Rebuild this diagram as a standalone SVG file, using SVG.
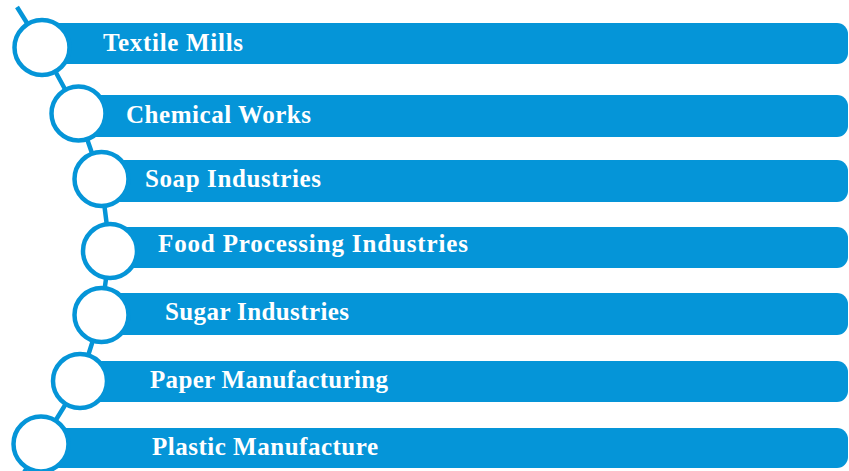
<svg xmlns="http://www.w3.org/2000/svg" width="849" height="471" viewBox="0 0 849 471">
<style>
.bar{fill:#0595d8}
.dot{fill:#fff;stroke:#0595d8;stroke-width:4.5}
.lbl{font-family:"Liberation Serif","Times New Roman",serif;font-weight:bold;font-size:25px;fill:#fff}
.link{fill:none;stroke:#0595d8;stroke-width:4.5;stroke-linejoin:round;stroke-linecap:butt}
</style>
<rect width="849" height="471" fill="#fff"/>
<g id="connectors">
<path class="link" d="M17,7 L42,47 L78,113 L101,179 L110,250 L101,315 L80,381 L41,444 L22,476"/>
</g>
<g id="n1"><rect class="bar" x="45" y="23" width="803" height="41" rx="11"/><circle class="dot" cx="42" cy="47.5" r="27.5"/><text class="lbl" x="103" y="51" textLength="140" lengthAdjust="spacing">Textile Mills</text></g>
<g id="n2"><rect class="bar" x="80" y="95" width="768" height="42" rx="11"/><circle class="dot" cx="78.5" cy="113.5" r="27"/><text class="lbl" x="126" y="123" textLength="185" lengthAdjust="spacing">Chemical Works</text></g>
<g id="n3"><rect class="bar" x="100" y="160" width="748" height="42" rx="11"/><circle class="dot" cx="101.5" cy="179" r="27"/><text class="lbl" x="145" y="187" textLength="176" lengthAdjust="spacing">Soap Industries</text></g>
<g id="n4"><rect class="bar" x="110" y="227" width="738" height="41" rx="11"/><circle class="dot" cx="110" cy="251" r="27"/><text class="lbl" x="158" y="252" textLength="310" lengthAdjust="spacing">Food Processing Industries</text></g>
<g id="n5"><rect class="bar" x="100" y="293" width="748" height="42" rx="11"/><circle class="dot" cx="101.5" cy="315" r="27"/><text class="lbl" x="165" y="320" textLength="184" lengthAdjust="spacing">Sugar Industries</text></g>
<g id="n6"><rect class="bar" x="80" y="361" width="768" height="41" rx="11"/><circle class="dot" cx="80" cy="381" r="27"/><text class="lbl" x="150" y="388" textLength="238" lengthAdjust="spacing">Paper Manufacturing</text></g>
<g id="n7"><rect class="bar" x="42" y="428" width="806" height="40" rx="11"/><circle class="dot" cx="41" cy="444" r="27.5"/><text class="lbl" x="152" y="455" textLength="226" lengthAdjust="spacing">Plastic Manufacture</text></g>
</svg>
